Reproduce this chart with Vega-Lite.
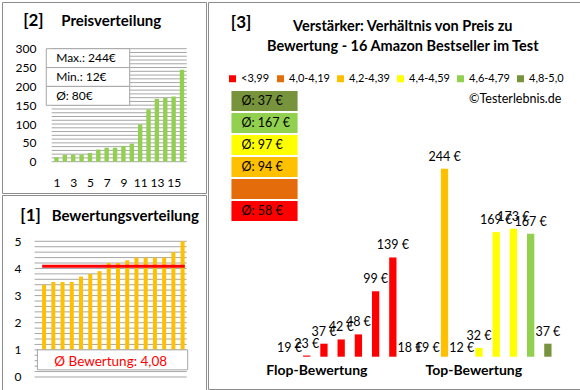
{
  "$schema": "https://vega.github.io/schema/vega-lite/v6.json",
  "padding": {"left": 1, "top": 1, "right": 2, "bottom": 2},
  "background": "white",
  "config": {"font": "Lato", "view": {"stroke": "#8C8C8C", "strokeWidth": 1}, "axis": {"labelOverlap": false, "labelBound": false, "labelFlush": false}},
  "datasets": {
    "preise": [
      {"nr": 1, "price": 12}, {"nr": 2, "price": 18}, {"nr": 3, "price": 19}, {"nr": 4, "price": 19},
      {"nr": 5, "price": 23}, {"nr": 6, "price": 32}, {"nr": 7, "price": 37}, {"nr": 8, "price": 37},
      {"nr": 9, "price": 42}, {"nr": 10, "price": 48}, {"nr": 11, "price": 99}, {"nr": 12, "price": 139},
      {"nr": 13, "price": 167}, {"nr": 14, "price": 169}, {"nr": 15, "price": 173}, {"nr": 16, "price": 244}
    ],
    "bewertungen": [
      {"nr": 1, "rating": 3.4}, {"nr": 2, "rating": 3.5}, {"nr": 3, "rating": 3.5}, {"nr": 4, "rating": 3.5},
      {"nr": 5, "rating": 3.7}, {"nr": 6, "rating": 3.8}, {"nr": 7, "rating": 3.9}, {"nr": 8, "rating": 4.2},
      {"nr": 9, "rating": 4.2}, {"nr": 10, "rating": 4.3}, {"nr": 11, "rating": 4.4}, {"nr": 12, "rating": 4.4},
      {"nr": 13, "rating": 4.4}, {"nr": 14, "rating": 4.4}, {"nr": 15, "rating": 4.6}, {"nr": 16, "rating": 5.0}
    ],
    "artikel": [
      {"nr": 1, "price": 19, "gruppe": "<3,99"}, {"nr": 2, "price": 23, "gruppe": "<3,99"},
      {"nr": 3, "price": 37, "gruppe": "<3,99"}, {"nr": 4, "price": 42, "gruppe": "<3,99"},
      {"nr": 5, "price": 48, "gruppe": "<3,99"}, {"nr": 6, "price": 99, "gruppe": "<3,99"},
      {"nr": 7, "price": 139, "gruppe": "<3,99"}, {"nr": 8, "price": 18, "gruppe": "4,2-4,39"},
      {"nr": 9, "price": 19, "gruppe": "4,2-4,39"}, {"nr": 10, "price": 244, "gruppe": "4,2-4,39"},
      {"nr": 11, "price": 12, "gruppe": "4,4-4,59"}, {"nr": 12, "price": 32, "gruppe": "4,4-4,59"},
      {"nr": 13, "price": 169, "gruppe": "4,4-4,59"}, {"nr": 14, "price": 173, "gruppe": "4,4-4,59"},
      {"nr": 15, "price": 167, "gruppe": "4,6-4,79"}, {"nr": 16, "price": 37, "gruppe": "4,8-5,0"}
    ],
    "gruppen": [
      {"gruppe": "4,8-5,0", "avg": "Ø: 37 €"}, {"gruppe": "4,6-4,79", "avg": "Ø: 167 €"},
      {"gruppe": "4,4-4,59", "avg": "Ø: 97 €"}, {"gruppe": "4,2-4,39", "avg": "Ø: 94 €"},
      {"gruppe": "4,0-4,19", "avg": ""}, {"gruppe": "<3,99", "avg": "Ø: 58 €"}
    ],
    "stats": [{"stat": "Max.: 244€"}, {"stat": "Min.: 12€"}, {"stat": "Ø: 80€"}],
    "schnitt": [{"avg": 4.08, "text": "Ø Bewertung: 4,08"}],
    "gridA": [
      {"v": 0}, {"v": 10}, {"v": 20}, {"v": 30}, {"v": 40}, {"v": 50}, {"v": 60}, {"v": 70}, {"v": 80}, {"v": 90},
      {"v": 100}, {"v": 110}, {"v": 120}, {"v": 130}, {"v": 140}, {"v": 150}, {"v": 160}, {"v": 170}, {"v": 180},
      {"v": 190}, {"v": 200}, {"v": 210}, {"v": 220}, {"v": 230}, {"v": 240}, {"v": 250}, {"v": 260}, {"v": 270},
      {"v": 280}, {"v": 290}, {"v": 300}
    ],
    "gridB": [
      {"v": 0}, {"v": 0.2}, {"v": 0.4}, {"v": 0.6}, {"v": 0.8}, {"v": 1}, {"v": 1.2}, {"v": 1.4}, {"v": 1.6},
      {"v": 1.8}, {"v": 2}, {"v": 2.2}, {"v": 2.4}, {"v": 2.6}, {"v": 2.8}, {"v": 3}, {"v": 3.2}, {"v": 3.4},
      {"v": 3.6}, {"v": 3.8}, {"v": 4}, {"v": 4.2}, {"v": 4.4}, {"v": 4.6}, {"v": 4.8}, {"v": 5}
    ]
  },
  "resolve": {"scale": {"color": "independent"}, "legend": {"color": "independent"}},
  "spacing": 0,
  "hconcat": [
    {
      "spacing": 0,
      "vconcat": [
        {
          "width": 204,
          "height": 191,
          "resolve": {"scale": {"y": "independent"}},
          "layer": [
            {
              "layer": [
                {
                  "data": {"name": "gridA"},
                  "mark": {"type": "rule", "color": "#A6A6A6", "strokeWidth": 1},
                  "encoding": {
                    "x": {"datum": 0.43, "type": "quantitative", "scale": {"domain": [-4.909, 18.27], "nice": false, "zero": false},
                      "axis": {"values": [1, 3, 5, 7, 9, 11, 13, 15], "orient": "bottom", "offset": -16, "domain": false, "ticks": false, "grid": false, "labelPadding": 0, "labelFontSize": 12, "labelColor": "#000000", "labelOverlap": false, "title": null}},
                    "x2": {"datum": 16.57},
                    "y": {"field": "v", "type": "quantitative", "scale": {"domain": [-83.1, 424], "nice": false, "zero": false},
                      "axis": {"values": [0, 50, 100, 150, 200, 250, 300], "orient": "left", "offset": -34, "domain": false, "ticks": false, "grid": false, "labelPadding": 0, "labelFontSize": 12, "labelColor": "#000000", "labelOverlap": false, "title": null}}
                  }
                },
                {
                  "data": {"name": "preise"},
                  "mark": {"type": "bar", "color": "#92D050", "width": 4.4},
                  "encoding": {
                    "x": {"field": "nr", "type": "quantitative", "scale": {"domain": [-4.909, 18.27], "nice": false, "zero": false},
                      "axis": {"values": [1, 3, 5, 7, 9, 11, 13, 15], "orient": "bottom", "offset": -16, "domain": false, "ticks": false, "grid": false, "labelPadding": 0, "labelFontSize": 12, "labelColor": "#000000", "labelOverlap": false, "title": null}},
                    "y": {"field": "price", "type": "quantitative", "scale": {"domain": [-83.1, 424], "nice": false, "zero": false},
                      "axis": {"values": [0, 50, 100, 150, 200, 250, 300], "orient": "left", "offset": -34, "domain": false, "ticks": false, "grid": false, "labelPadding": 0, "labelFontSize": 12, "labelColor": "#000000", "labelOverlap": false, "title": null}},
                    "y2": {"datum": 0}
                  }
                },
                {
                  "data": {"values": [{}]},
                  "mark": {"type": "text", "align": "left", "fontSize": 17, "fontWeight": "bold", "color": "#000000"},
                  "encoding": {
                    "x": {"datum": -2.977, "type": "quantitative", "scale": {"domain": [-4.909, 18.27], "nice": false, "zero": false},
                      "axis": {"values": [1, 3, 5, 7, 9, 11, 13, 15], "orient": "bottom", "offset": -16, "domain": false, "ticks": false, "grid": false, "labelPadding": 0, "labelFontSize": 12, "labelColor": "#000000", "labelOverlap": false, "title": null}},
                    "y": {"datum": 373.5, "type": "quantitative", "scale": {"domain": [-83.1, 424], "nice": false, "zero": false},
                      "axis": {"values": [0, 50, 100, 150, 200, 250, 300], "orient": "left", "offset": -34, "domain": false, "ticks": false, "grid": false, "labelPadding": 0, "labelFontSize": 12, "labelColor": "#000000", "labelOverlap": false, "title": null}},
                    "text": {"value": "[2]"}
                  }
                },
                {
                  "data": {"values": [{}]},
                  "mark": {"type": "text", "align": "left", "fontSize": 15, "fontWeight": "bold", "color": "#000000"},
                  "encoding": {
                    "x": {"datum": 1.568, "type": "quantitative", "scale": {"domain": [-4.909, 18.27], "nice": false, "zero": false},
                      "axis": {"values": [1, 3, 5, 7, 9, 11, 13, 15], "orient": "bottom", "offset": -16, "domain": false, "ticks": false, "grid": false, "labelPadding": 0, "labelFontSize": 12, "labelColor": "#000000", "labelOverlap": false, "title": null}},
                    "y": {"datum": 373.5, "type": "quantitative", "scale": {"domain": [-83.1, 424], "nice": false, "zero": false},
                      "axis": {"values": [0, 50, 100, 150, 200, 250, 300], "orient": "left", "offset": -34, "domain": false, "ticks": false, "grid": false, "labelPadding": 0, "labelFontSize": 12, "labelColor": "#000000", "labelOverlap": false, "title": null}},
                    "text": {"value": "Preisverteilung"}
                  }
                }
              ]
            },
            {
              "data": {"name": "stats"},
              "encoding": {
                "y": {"field": "stat", "type": "nominal", "sort": null, "scale": {"type": "band", "range": [46.7, 103.3], "paddingInner": 0, "paddingOuter": 0}, "axis": null}
              },
              "layer": [
                {
                  "mark": {"type": "rect", "fill": "white", "stroke": "#A6A6A6", "strokeWidth": 1},
                  "encoding": {
                    "x": {"datum": -0.216, "type": "quantitative", "scale": {"domain": [-4.909, 18.27], "nice": false, "zero": false},
                      "axis": {"values": [1, 3, 5, 7, 9, 11, 13, 15], "orient": "bottom", "offset": -16, "domain": false, "ticks": false, "grid": false, "labelPadding": 0, "labelFontSize": 12, "labelColor": "#000000", "labelOverlap": false, "title": null}},
                    "x2": {"datum": 9.75}
                  }
                },
                {
                  "mark": {"type": "text", "align": "left", "fontSize": 12, "color": "#000000"},
                  "encoding": {
                    "x": {"datum": 0.966, "type": "quantitative", "scale": {"domain": [-4.909, 18.27], "nice": false, "zero": false},
                      "axis": {"values": [1, 3, 5, 7, 9, 11, 13, 15], "orient": "bottom", "offset": -16, "domain": false, "ticks": false, "grid": false, "labelPadding": 0, "labelFontSize": 12, "labelColor": "#000000", "labelOverlap": false, "title": null}},
                    "text": {"field": "stat"}
                  }
                }
              ]
            }
          ]
        },
        {
          "width": 204,
          "height": 196,
          "layer": [
            {
              "data": {"name": "gridB"},
              "mark": {"type": "rule", "color": "#A6A6A6", "strokeWidth": 1},
              "encoding": {
                "x": {"datum": -0.03, "type": "quantitative", "scale": {"domain": [-3.015, 17.99], "nice": false, "zero": false}, "axis": null},
                "x2": {"datum": 16.44},
                "y": {"field": "v", "type": "quantitative", "scale": {"domain": [-0.516, 6.706], "nice": false, "zero": false},
                  "axis": {"values": [0, 1, 2, 3, 4, 5], "orient": "left", "offset": -19, "domain": false, "ticks": false, "grid": false, "labelPadding": 0, "labelFontSize": 12, "labelColor": "#000000", "labelOverlap": false, "title": null}}
              }
            },
            {
              "data": {"name": "bewertungen"},
              "mark": {"type": "bar", "color": "#FFC000", "width": 4},
              "encoding": {
                "x": {"field": "nr", "type": "quantitative", "axis": null},
                "y": {"field": "rating", "type": "quantitative",
                  "axis": {"values": [0, 1, 2, 3, 4, 5], "orient": "left", "offset": -19, "domain": false, "ticks": false, "grid": false, "labelPadding": 0, "labelFontSize": 12, "labelColor": "#000000", "labelOverlap": false, "title": null}},
                "y2": {"datum": 1}
              }
            },
            {
              "data": {"name": "schnitt"},
              "mark": {"type": "rule", "color": "#FF0000", "strokeWidth": 3},
              "encoding": {
                "x": {"datum": 0.794, "type": "quantitative", "axis": null},
                "x2": {"datum": 16.24},
                "y": {"field": "avg", "type": "quantitative",
                  "axis": {"values": [0, 1, 2, 3, 4, 5], "orient": "left", "offset": -19, "domain": false, "ticks": false, "grid": false, "labelPadding": 0, "labelFontSize": 12, "labelColor": "#000000", "labelOverlap": false, "title": null}}
              }
            },
            {
              "data": {"name": "schnitt"},
              "mark": {"type": "rect", "fill": "white", "stroke": "#A6A6A6", "strokeWidth": 1},
              "encoding": {
                "x": {"datum": 0.279, "type": "quantitative", "axis": null},
                "x2": {"datum": 16.55},
                "y": {"datum": 1, "type": "quantitative",
                  "axis": {"values": [0, 1, 2, 3, 4, 5], "orient": "left", "offset": -19, "domain": false, "ticks": false, "grid": false, "labelPadding": 0, "labelFontSize": 12, "labelColor": "#000000", "labelOverlap": false, "title": null}},
                "y2": {"datum": 0.263}
              }
            },
            {
              "data": {"name": "schnitt"},
              "mark": {"type": "text", "fontSize": 13.5, "color": "#FF0000"},
              "encoding": {
                "x": {"datum": 8.207, "type": "quantitative", "axis": null},
                "y": {"datum": 0.553, "type": "quantitative",
                  "axis": {"values": [0, 1, 2, 3, 4, 5], "orient": "left", "offset": -19, "domain": false, "ticks": false, "grid": false, "labelPadding": 0, "labelFontSize": 12, "labelColor": "#000000", "labelOverlap": false, "title": null}},
                "text": {"field": "text"}
              }
            },
            {
              "data": {"values": [{}]},
              "mark": {"type": "text", "align": "left", "fontSize": 17, "fontWeight": "bold", "color": "#000000"},
              "encoding": {
                "x": {"datum": -1.574, "type": "quantitative", "axis": null},
                "y": {"datum": 5.921, "type": "quantitative",
                  "axis": {"values": [0, 1, 2, 3, 4, 5], "orient": "left", "offset": -19, "domain": false, "ticks": false, "grid": false, "labelPadding": 0, "labelFontSize": 12, "labelColor": "#000000", "labelOverlap": false, "title": null}},
                "text": {"value": "[1]"}
              }
            },
            {
              "data": {"values": [{}]},
              "mark": {"type": "text", "align": "left", "fontSize": 15, "fontWeight": "bold", "color": "#000000"},
              "encoding": {
                "x": {"datum": 1.824, "type": "quantitative", "axis": null},
                "y": {"datum": 5.921, "type": "quantitative",
                  "axis": {"values": [0, 1, 2, 3, 4, 5], "orient": "left", "offset": -19, "domain": false, "ticks": false, "grid": false, "labelPadding": 0, "labelFontSize": 12, "labelColor": "#000000", "labelOverlap": false, "title": null}},
                "text": {"value": "Bewertungsverteilung"}
              }
            }
          ]
        }
      ]
    },
    {
      "width": 373,
      "height": 387,
      "resolve": {"scale": {"y": "independent"}},
      "layer": [
        {
          "layer": [
            {
              "data": {"name": "artikel"},
              "transform": [{"filter": "datum.price > 21.6"}],
              "mark": {"type": "bar", "width": 7.3},
              "encoding": {
                "x": {"field": "nr", "type": "quantitative", "scale": {"domain": [-3.4407, 17.633], "nice": false, "zero": false}, "axis": null},
                "y": {"field": "price", "type": "quantitative", "scale": {"domain": [-16.6, 441.2], "nice": false, "zero": false}, "axis": null},
                "y2": {"datum": 21.6},
                "color": {"field": "gruppe", "type": "nominal",
                  "scale": {"domain": ["<3,99", "4,0-4,19", "4,2-4,39", "4,4-4,59", "4,6-4,79", "4,8-5,0"], "range": ["#FF0000", "#E46C0A", "#FFC000", "#FFFF00", "#92D050", "#77933C"]},
                  "legend": {"orient": "none", "legendX": 19, "legendY": 71, "direction": "horizontal", "title": null, "symbolType": "square", "symbolSize": 49, "symbolStrokeWidth": 0, "symbolOpacity": 1, "labelFontSize": 11, "labelColor": "#000000", "columnPadding": 5, "labelOffset": 3, "padding": 0, "gridAlign": "each"}}
              }
            },
            {
              "data": {"name": "artikel"},
              "transform": [{"calculate": "datum.price + ' €'", "as": "label"}, {"filter": "datum.price >= 21.6"}],
              "mark": {"type": "text", "dy": -12, "fontSize": 12.5, "color": "#000000"},
              "encoding": {
                "x": {"field": "nr", "type": "quantitative", "scale": {"domain": [-3.4407, 17.633], "nice": false, "zero": false}, "axis": null},
                "y": {"field": "price", "type": "quantitative", "scale": {"domain": [-16.6, 441.2], "nice": false, "zero": false}, "axis": null},
                "text": {"field": "label"}
              }
            },
            {
              "data": {"name": "artikel"},
              "transform": [{"calculate": "datum.price + ' €'", "as": "label"}, {"filter": "datum.price < 21.6"}],
              "mark": {"type": "text", "dy": -9, "fontSize": 12.5, "color": "#000000"},
              "encoding": {
                "x": {"field": "nr", "type": "quantitative", "scale": {"domain": [-3.4407, 17.633], "nice": false, "zero": false}, "axis": null},
                "y": {"datum": 21.6, "type": "quantitative", "scale": {"domain": [-16.6, 441.2], "nice": false, "zero": false}, "axis": null},
                "text": {"field": "label"}
              }
            },
            {
              "data": {"values": [{}]},
              "mark": {"type": "text", "align": "left", "fontSize": 17, "fontWeight": "bold", "color": "#000000"},
              "encoding": {
                "x": {"datum": -2.407, "type": "quantitative", "axis": null},
                "y": {"datum": 416.7, "type": "quantitative", "axis": null},
                "text": {"value": "[3]"}
              }
            },
            {
              "data": {"values": [{}]},
              "mark": {"type": "text", "fontSize": 14.5, "fontWeight": "bold", "color": "#000000"},
              "encoding": {
                "x": {"datum": 7.576, "type": "quantitative", "axis": null},
                "y": {"datum": 411.6, "type": "quantitative", "axis": null},
                "text": {"value": "Verstärker: Verhältnis von Preis zu"}
              }
            },
            {
              "data": {"values": [{}]},
              "mark": {"type": "text", "fontSize": 14.5, "fontWeight": "bold", "color": "#000000"},
              "encoding": {
                "x": {"datum": 7.576, "type": "quantitative", "axis": null},
                "y": {"datum": 387.9, "type": "quantitative", "axis": null},
                "text": {"value": "Bewertung - 16 Amazon Bestseller im Test"}
              }
            },
            {
              "data": {"values": [{}]},
              "mark": {"type": "text", "align": "right", "fontSize": 12.5, "color": "#000000"},
              "encoding": {
                "x": {"datum": 16.785, "type": "quantitative", "axis": null},
                "y": {"datum": 326.8, "type": "quantitative", "axis": null},
                "text": {"value": "©Testerlebnis.de"}
              }
            },
            {
              "data": {"values": [{}]},
              "mark": {"type": "text", "fontSize": 14, "fontWeight": "bold", "color": "#000000"},
              "encoding": {
                "x": {"datum": 2.588, "type": "quantitative", "axis": null},
                "y": {"datum": 4.7, "type": "quantitative", "axis": null},
                "text": {"value": "Flop-Bewertung"}
              }
            },
            {
              "data": {"values": [{}]},
              "mark": {"type": "text", "fontSize": 14, "fontWeight": "bold", "color": "#000000"},
              "encoding": {
                "x": {"datum": 11.7, "type": "quantitative", "axis": null},
                "y": {"datum": 4.7, "type": "quantitative", "axis": null},
                "text": {"value": "Top-Bewertung"}
              }
            }
          ]
        },
        {
          "data": {"name": "gruppen"},
          "encoding": {
            "y": {"field": "gruppe", "type": "nominal", "sort": null, "scale": {"type": "band", "range": [89, 219], "paddingInner": 0.0909, "paddingOuter": 0}, "axis": null}
          },
          "layer": [
            {
              "mark": {"type": "rect"},
              "encoding": {
                "x": {"datum": -2.37, "type": "quantitative", "scale": {"domain": [-3.4407, 17.633], "nice": false, "zero": false}, "axis": null},
                "x2": {"datum": 1.47},
                "color": {"field": "gruppe", "type": "nominal",
                  "scale": {"domain": ["<3,99", "4,0-4,19", "4,2-4,39", "4,4-4,59", "4,6-4,79", "4,8-5,0"], "range": ["#FF0000", "#E46C0A", "#FFC000", "#FFFF00", "#92D050", "#77933C"]},
                  "legend": {"orient": "none", "legendX": 19, "legendY": 71, "direction": "horizontal", "title": null, "symbolType": "square", "symbolSize": 49, "symbolStrokeWidth": 0, "symbolOpacity": 1, "labelFontSize": 11, "labelColor": "#000000", "columnPadding": 5, "labelOffset": 3, "padding": 0, "gridAlign": "each"}}
              }
            },
            {
              "mark": {"type": "text", "align": "left", "fontSize": 12.5, "color": "#000000"},
              "encoding": {
                "x": {"datum": -1.785, "type": "quantitative", "scale": {"domain": [-3.4407, 17.633], "nice": false, "zero": false}, "axis": null},
                "text": {"field": "avg"}
              }
            }
          ]
        }
      ]
    }
  ]
}
